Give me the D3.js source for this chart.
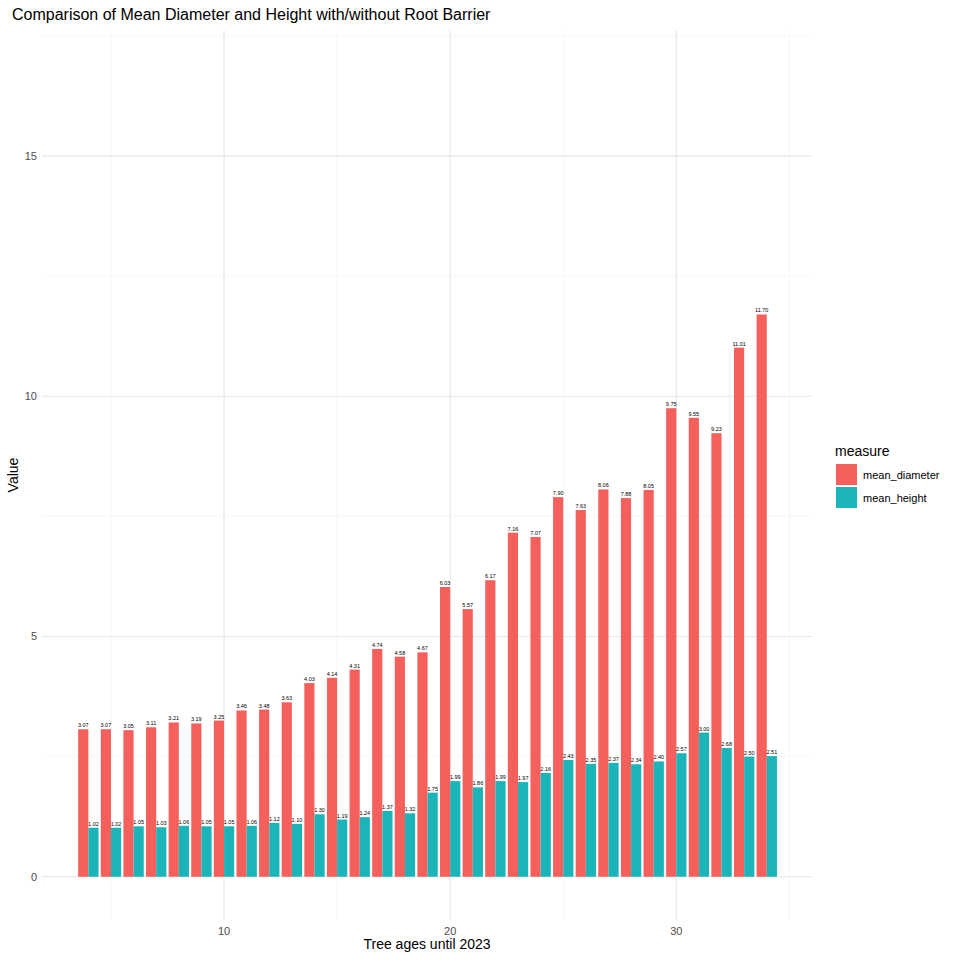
<!DOCTYPE html>
<html><head><meta charset="utf-8">
<script src="https://cdn.jsdelivr.net/npm/d3@7"></script>
<style>body{margin:0;background:#fff;font-family:"Liberation Sans",Arial,sans-serif;}</style>
</head><body>
<script>
var ages = d3.range(4, 35);
var meanDiameter = [3.07,3.07,3.05,3.11,3.21,3.19,3.25,3.46,3.48,3.63,4.03,4.14,4.31,4.74,4.58,4.67,6.03,5.57,6.17,7.16,7.07,7.90,7.63,8.06,7.88,8.05,9.75,9.55,9.23,11.01,11.70];
var meanHeight = [1.02,1.02,1.05,1.03,1.06,1.05,1.05,1.06,1.12,1.10,1.30,1.19,1.24,1.37,1.32,1.75,1.99,1.86,1.99,1.97,2.16,2.43,2.35,2.37,2.34,2.40,2.57,3.00,2.68,2.50,2.51];
var measures = ["mean_diameter", "mean_height"];
var colors = ["#F6605C", "#1BB5B9"];
var xTicks = [10, 20, 30], yTicks = [0, 5, 10, 15];

var svg = d3.select("body").append("svg").attr("width", 960).attr("height", 960);
var pLeft = 42, pRight = 812, pTop = 30, pBottom = 920;
var x = d3.scaleLinear().domain([1.95, 36.0]).range([pLeft, pRight]);
var y = d3.scaleLinear().domain([-0.9, 17.62]).range([pBottom, pTop]);

// grid
var g = svg.append("g");
[5, 15, 25, 35].forEach(function (v) {
    g.append("line").attr("x1", x(v)).attr("x2", x(v)).attr("y1", pTop).attr("y2", pBottom).attr("stroke", "#f1f1f1").attr("stroke-width", 0.6);
});
[2.5, 7.5, 12.5, 17.5].forEach(function (v) {
    g.append("line").attr("x1", pLeft).attr("x2", pRight).attr("y1", y(v)).attr("y2", y(v)).attr("stroke", "#f1f1f1").attr("stroke-width", 0.6);
});
xTicks.forEach(function (v) {
    g.append("line").attr("x1", x(v)).attr("x2", x(v)).attr("y1", pTop).attr("y2", pBottom).attr("stroke", "#e6e6e6").attr("stroke-width", 1.1);
    g.append("text").attr("x", x(v)).attr("y", pBottom + 15).attr("text-anchor", "middle").attr("font-size", 11).attr("fill", "#4d4d4d").text(v);
});
yTicks.forEach(function (v) {
    g.append("line").attr("x1", pLeft).attr("x2", pRight).attr("y1", y(v)).attr("y2", y(v)).attr("stroke", "#e6e6e6").attr("stroke-width", 1.1);
    g.append("text").attr("x", pLeft - 5).attr("y", y(v) + 4).attr("text-anchor", "end").attr("font-size", 11).attr("fill", "#4d4d4d").text(v);
});

// bars
var bw = 0.45;
[meanDiameter, meanHeight].forEach(function (vals, k) {
    ages.forEach(function (a, i) {
        var x0 = a - 0.45 + k * bw;
        svg.append("rect").attr("x", x(x0)).attr("width", x(x0 + bw) - x(x0))
            .attr("y", y(vals[i])).attr("height", y(0) - y(vals[i])).attr("fill", colors[k]);
        svg.append("text").attr("x", x(x0 + bw / 2)).attr("y", y(vals[i]) - 2).attr("text-anchor", "middle")
            .attr("font-size", 5.5).attr("fill", "#000").text(vals[i].toFixed(2));
    });
});

// titles
svg.append("text").attr("x", 12).attr("y", 20).attr("font-size", 16).attr("fill", "#000").text("Comparison of Mean Diameter and Height with/without Root Barrier");
svg.append("text").attr("x", (pLeft + pRight) / 2).attr("y", 949).attr("text-anchor", "middle").attr("font-size", 14).text("Tree ages until 2023");
svg.append("text").attr("transform", "translate(18," + ((pTop + pBottom) / 2) + ") rotate(-90)").attr("text-anchor", "middle").attr("font-size", 14).text("Value");

// legend
svg.append("text").attr("x", 835).attr("y", 456).attr("font-size", 14).text("measure");
measures.forEach(function (m, k) {
    svg.append("rect").attr("x", 836).attr("y", 464 + k * 23).attr("width", 21).attr("height", 21).attr("fill", colors[k]);
    svg.append("text").attr("x", 863).attr("y", 479 + k * 23).attr("font-size", 11).text(m);
});
</script>
</body></html>
